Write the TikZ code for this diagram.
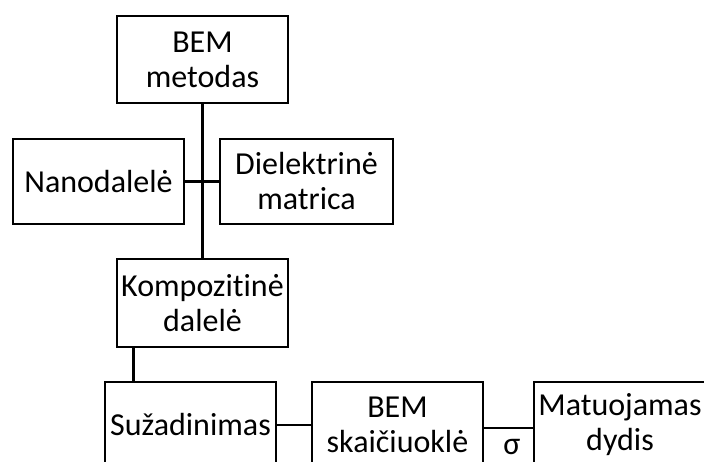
\documentclass[tikz,border=0pt]{standalone}
\usepackage{fontspec}
\setmainfont[Ligatures=NoCommon]{Carlito}
\begin{document}
\begin{tikzpicture}[x=1pt,y=-1pt,
  box/.style={draw=black,line width=2.6pt,fill=white,align=center,inner sep=0pt,
    font=\fontsize{32}{35}\selectfont},
  conn/.style={draw=black,line width=2.6pt}]
\useasboundingbox (0,0) rectangle (704,462);
\clip (0,0) rectangle (704,462);
\node[box,minimum width=171pt,minimum height=87pt] (bem) at (202.5,59.5) {BEM\\metodas};
\node[box,minimum width=171pt,minimum height=85pt] (nano) at (98.5,181.5) {Nanodalelė};
\node[box,minimum width=173pt,minimum height=85pt] (diel) at (306.5,181.5) {Dielektrinė\\matrica};
\node[box,minimum width=171pt,minimum height=88pt] (komp) at (202.5,303) {Kompozitinė\\dalelė};
\node[box,minimum width=171pt,minimum height=86pt] (suz) at (190.5,425) {Sužadinimas};
\node[box,minimum width=171pt,minimum height=86pt] (calc) at (397.5,425) {BEM\\skaičiuoklė};
\node[box,minimum width=172pt,minimum height=86pt] (mat) at (620,425) {Matuojamas\\dydis};
\node[font=\fontsize{32}{35}\selectfont,inner sep=0pt] (sigma) at (512,447) {σ};
\draw[conn] (bem.south) -- (komp.north);
\draw[conn,line width=2.2pt] (nano.east) -- (diel.west);
\draw[conn] ([xshift=18pt]komp.south west) -- ([xshift=18pt]komp.south west |- suz.north);
\draw[conn,line width=2.2pt] (suz.east) -- (calc.west);
\draw[conn,line width=2pt] ([yshift=-3pt]calc.east) -- ([yshift=-3pt]mat.west);
\end{tikzpicture}
\end{document}
